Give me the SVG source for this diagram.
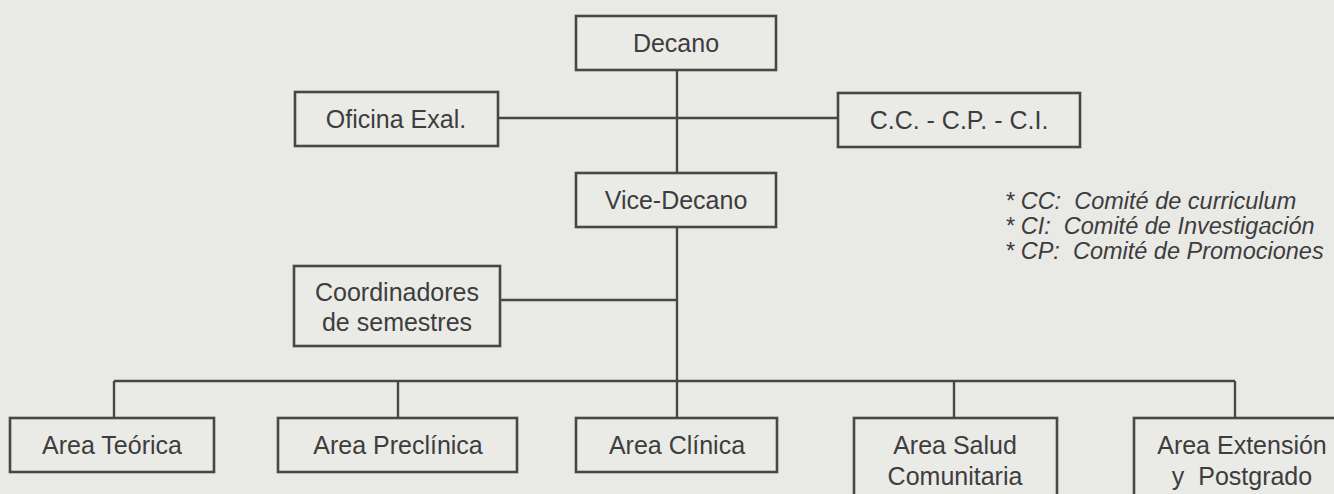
<svg xmlns="http://www.w3.org/2000/svg" width="1334" height="494" viewBox="0 0 1334 494">
<style>
.bg{fill:#e9e9e6}
.box{fill:#eaeae7;stroke:#474747;stroke-width:2.6}
.ln{fill:none;stroke:#474747;stroke-width:2.4}
text{font-family:"Liberation Sans",Arial,sans-serif;fill:#3d3d3d}
.lbl{font-size:25px;text-anchor:middle;dominant-baseline:central}
.leg{font-size:23.5px;font-style:italic}
</style>
<rect class="bg" x="0" y="0" width="1334" height="494"/>
<g id="connectors">
<line class="ln" x1="677" y1="70" x2="677" y2="173"/>
<line class="ln" x1="498" y1="118" x2="838" y2="118"/>
<line class="ln" x1="677" y1="227" x2="677" y2="418"/>
<line class="ln" x1="500" y1="300" x2="677" y2="300"/>
<line class="ln" x1="114" y1="381" x2="1235" y2="381"/>
<line class="ln" x1="114" y1="381" x2="114" y2="418"/>
<line class="ln" x1="398" y1="381" x2="398" y2="418"/>
<line class="ln" x1="954" y1="381" x2="954" y2="418"/>
<line class="ln" x1="1235" y1="381" x2="1235" y2="418"/>
</g>
<g id="decano"><rect class="box" x="576" y="16" width="200" height="54"/><text class="lbl" x="676" y="43">Decano</text></g>
<g id="oficina"><rect class="box" x="295" y="92" width="203" height="54"/><text class="lbl" x="396" y="119">Oficina Exal.</text></g>
<g id="comites"><rect class="box" x="838" y="93" width="242" height="54"/><text class="lbl" x="959" y="120">C.C. - C.P. - C.I.</text></g>
<g id="vicedecano"><rect class="box" x="576" y="173" width="200" height="54"/><text class="lbl" x="676" y="200">Vice-Decano</text></g>
<g id="coordinadores"><rect class="box" x="294" y="266" width="206" height="80"/><text class="lbl" x="397" y="292">Coordinadores</text><text class="lbl" x="397" y="322">de semestres</text></g>
<g id="teorica"><rect class="box" x="10" y="418" width="204" height="54"/><text class="lbl" x="112" y="445">Area Teórica</text></g>
<g id="preclinica"><rect class="box" x="278" y="418" width="239" height="54"/><text class="lbl" x="398" y="445">Area Preclínica</text></g>
<g id="clinica"><rect class="box" x="576" y="418" width="201" height="54"/><text class="lbl" x="677" y="445">Area Clínica</text></g>
<g id="salud"><rect class="box" x="854" y="418" width="203" height="90"/><text class="lbl" x="955" y="445">Area Salud</text><text class="lbl" x="955" y="476">Comunitaria</text></g>
<g id="extension"><rect class="box" x="1134" y="418" width="210" height="90"/><text class="lbl" x="1242" y="445">Area Extensión</text><text class="lbl" x="1242" y="476" xml:space="preserve">y  Postgrado</text></g>
<g id="legend">
<text class="leg" x="1005" y="209" xml:space="preserve">* CC:  Comité de curriculum</text>
<text class="leg" x="1005" y="234" xml:space="preserve">* CI:  Comité de Investigación</text>
<text class="leg" x="1005" y="259" xml:space="preserve">* CP:  Comité de Promociones</text>
</g>
</svg>
